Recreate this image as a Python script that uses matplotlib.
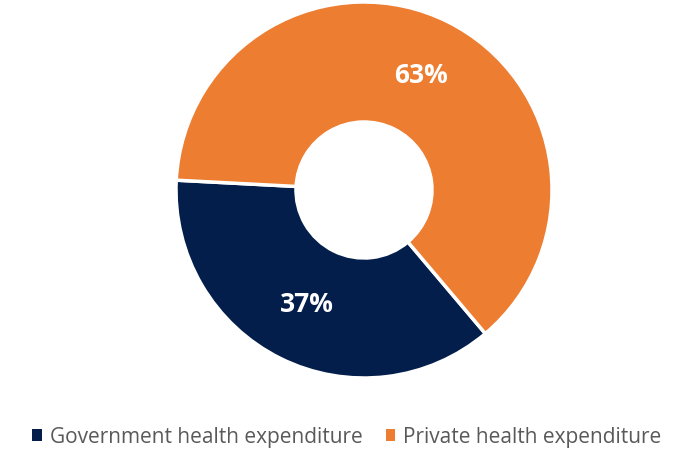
import matplotlib.pyplot as plt
from matplotlib.patches import Patch

labels = ['Government health expenditure', 'Private health expenditure']
shares = [37, 63]
colors = ['#031E4B', '#ED7D31']

plt.rcParams['font.family'] = ['Open Sans', 'DejaVu Sans']

fig = plt.figure(figsize=(6.8, 4.51), dpi=100)
W, H = 680, 451
ax = fig.add_axes([176 / W, (H - 378) / H, 376 / W, 376 / H])

wedges, texts, autotexts = ax.pie(
    shares, colors=colors, startangle=177, counterclock=True,
    autopct='%d%%', pctdistance=0.68, radius=1,
    wedgeprops=dict(width=1 - 68 / 188, edgecolor='white', linewidth=2.5),
    textprops=dict(color='white', fontsize=19, fontweight='bold'))
ax.set_xlim(-1, 1)
ax.set_ylim(-1, 1)
ax.set_aspect('equal')

handles = [Patch(facecolor=c, label=l) for c, l in zip(colors, labels)]
fig.legend(handles=handles, loc='center', bbox_to_anchor=(347 / W, 1 - 437 / H),
           ncol=2, frameon=False, fontsize=15, labelcolor='#595959',
           handlelength=0.45, handleheight=0.45, handletextpad=0.4, columnspacing=1.1)

fig.savefig('out.png', dpi=100)
